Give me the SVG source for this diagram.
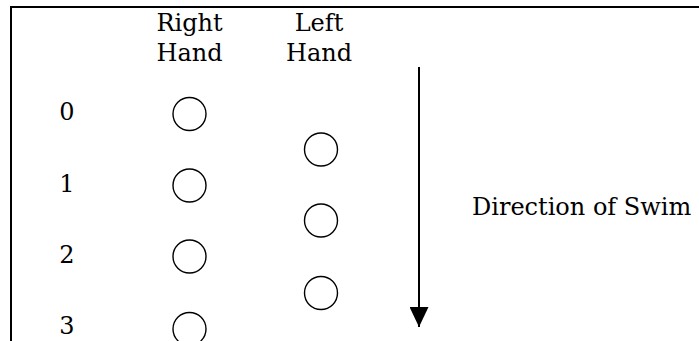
<svg xmlns="http://www.w3.org/2000/svg" width="699" height="341" viewBox="0 0 699 341">
  <style>
    .lbl { font-family: "DejaVu Serif", "Liberation Serif", serif; font-size: 24px; fill: #000; }
    .hand { fill: none; stroke: #000; stroke-width: 1.4; }
    .frame { fill: none; stroke: #000; stroke-width: 2; }
  </style>
  <defs>
    <marker id="head" markerWidth="20" markerHeight="19" refX="20" refY="9.5" orient="auto" markerUnits="userSpaceOnUse" viewBox="0 0 20 19">
      <path d="M0,0 L20,9.5 L0,19 Z" fill="#000"/>
    </marker>
  </defs>
  <rect width="699" height="341" fill="#fff"/>

  <!-- frame (continues beyond the right and bottom edges) -->
  <path class="frame" d="M11,345 L11,7 L705,7"/>

  <!-- column headings -->
  <g id="heading-right">
    <text class="lbl" x="189.5" y="31" text-anchor="middle">Right</text>
    <text class="lbl" x="189.5" y="61" text-anchor="middle">Hand</text>
  </g>
  <g id="heading-left">
    <text class="lbl" x="319" y="31" text-anchor="middle">Left</text>
    <text class="lbl" x="319" y="61" text-anchor="middle">Hand</text>
  </g>

  <!-- stroke count labels -->
  <g id="count-0"><text class="lbl" x="67" y="120" text-anchor="middle">0</text></g>
  <g id="count-1"><text class="lbl" x="67" y="192" text-anchor="middle">1</text></g>
  <g id="count-2"><text class="lbl" x="67" y="263" text-anchor="middle">2</text></g>
  <g id="count-3"><text class="lbl" x="67" y="334" text-anchor="middle">3</text></g>

  <!-- right hand entries -->
  <g id="right-0"><circle class="hand" cx="189.5" cy="114" r="16.5"/></g>
  <g id="right-1"><circle class="hand" cx="189.5" cy="185.5" r="16.5"/></g>
  <g id="right-2"><circle class="hand" cx="189.5" cy="256.5" r="16.5"/></g>
  <g id="right-3"><circle class="hand" cx="189.5" cy="329" r="16.5"/></g>

  <!-- left hand entries -->
  <g id="left-0"><circle class="hand" cx="321" cy="149.5" r="16.5"/></g>
  <g id="left-1"><circle class="hand" cx="321" cy="220.5" r="16.5"/></g>
  <g id="left-2"><circle class="hand" cx="321" cy="293" r="16.5"/></g>

  <!-- direction arrow -->
  <g id="connectors">
    <line x1="419" y1="67" x2="419" y2="327" stroke="#000" stroke-width="2" marker-end="url(#head)"/>
  </g>
  <g id="direction-label">
    <text class="lbl" x="472" y="215">Direction of Swim</text>
  </g>
</svg>
